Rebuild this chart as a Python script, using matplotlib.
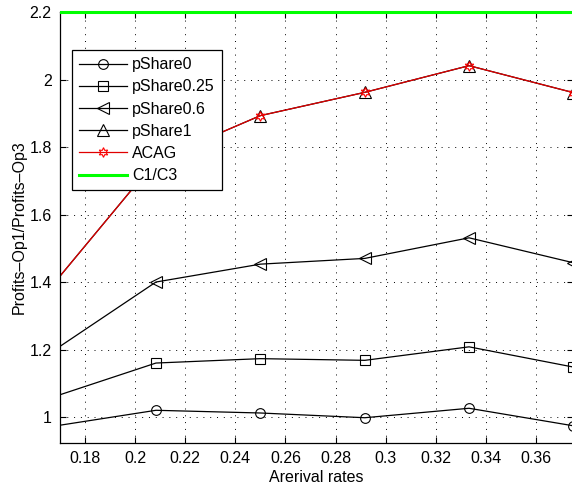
import matplotlib
matplotlib.use('Agg')
import matplotlib.pyplot as plt
from matplotlib.transforms import Bbox, TransformedBbox

plt.rcParams['font.family'] = ['Liberation Sans', 'DejaVu Sans']

# data
rates = [0.1667, 0.2083, 0.25, 0.2917, 0.3333, 0.375]
pshare0 = [0.972, 1.020, 1.012, 0.998, 1.026, 0.974]
pshare025 = [1.058, 1.160, 1.173, 1.168, 1.208, 1.148]
pshare06 = [1.193, 1.400, 1.453, 1.470, 1.531, 1.457]
pshare1 = [1.388, 1.760, 1.893, 1.962, 2.041, 1.961]
acag = [1.388, 1.760, 1.893, 1.962, 2.041, 1.961]
c1c3 = [2.2, 2.2, 2.2, 2.2, 2.2, 2.2]

xticks = [0.18, 0.2, 0.22, 0.24, 0.26, 0.28, 0.3, 0.32, 0.34, 0.36]
yticks = [1, 1.2, 1.4, 1.6, 1.8, 2, 2.2]

fs = 11.5
fig = plt.figure(figsize=(5.72, 4.91), dpi=100)
ax = fig.add_axes([60/572, 1-442.7/491, 513.5/572, (442.7-12)/491])

ms = 7
ax.plot(rates, pshare0, color='k', lw=0.9, marker='o', ms=ms, mfc='none', mec='k', mew=0.8, label='pShare0')
ax.plot(rates, pshare025, color='k', lw=0.9, marker='s', ms=ms-0.5, mfc='none', mec='k', mew=0.8, label='pShare0.25')
ax.plot(rates, pshare06, color='k', lw=0.9, marker='<', ms=ms+1, mfc='none', mec='k', mew=0.8, label='pShare0.6')
ax.plot(rates, pshare1, color='k', lw=0.9, marker='^', ms=ms+1, mfc='none', mec='k', mew=0.8, label='pShare1')
ax.plot(rates, acag, color='#e00000', lw=0.9, marker=(6, 1, 0), ms=ms, mfc='none', mec='red', mew=0.8, label='ACAG')
green, = ax.plot(rates, c1c3, color='#00ff00', lw=2.2, label='C1/C3', zorder=3)
green.set_clip_box(TransformedBbox(Bbox([[0, 0], [1, 1.02]]), ax.transAxes))

ax.set_xlim(0.17, 0.375)
ax.set_ylim(0.924, 2.2)
ax.set_xticks(xticks)
ax.set_xticklabels(['0.18', '0.2', '0.22', '0.24', '0.26', '0.28', '0.3', '0.32', '0.34', '0.36'])
ax.set_yticks(yticks)
ax.set_yticklabels(['1', '1.2', '1.4', '1.6', '1.8', '2', '2.2'])
ax.tick_params(direction='in', length=4, width=0.8, top=True, right=True, labelsize=fs, pad=6)
ax.grid(True, color='k', linestyle=(0, (1, 6)), linewidth=0.7)
for s in ax.spines.values():
    s.set_linewidth(0.9)

ax.set_xlabel('Arerival rates', fontsize=fs, labelpad=3)
ax.set_ylabel('Profits–Op1/Profits–Op3', fontsize=fs, labelpad=2)

leg = ax.legend(loc='upper left', bbox_to_anchor=(72/572, 1-50/491), bbox_transform=fig.transFigure,
                fontsize=fs, frameon=True, fancybox=False, framealpha=1, handlelength=3.0,
                labelspacing=0.45, handletextpad=0.3, borderpad=0.45, borderaxespad=0)
leg.get_frame().set_edgecolor('k')
leg.get_frame().set_linewidth(0.9)
leg.set_zorder(10)

fig.savefig('out.png', dpi=100)
